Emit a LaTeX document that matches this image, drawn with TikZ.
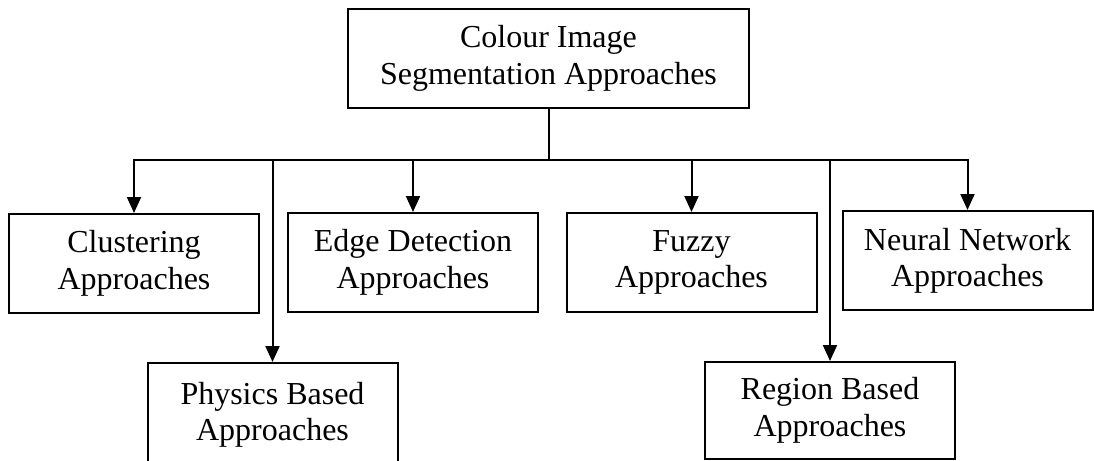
\documentclass[tikz,border=0pt]{standalone}
\usepackage{fontspec}
\setmainfont{Liberation Serif}
\usetikzlibrary{
	arrows.meta,        %箭头
	positioning
}
\tikzset{
	every picture/.style={
		>={Triangle[length=8pt,width=7pt]}
	},
	approach/.style={rectangle,draw,line width=1pt,
		align=center,inner sep=0pt,
		minimum width=125pt,minimum height=49.5pt,
		font=\fontsize{16}{18.2}\selectfont},
	link/.style={->,line width=1pt}
}

\begin{document}
\begin{tikzpicture}[x=0.5pt,y=-0.5pt]
\clip (0,0) rectangle (1094,461);
\node [approach,minimum width=200.5pt] (colour) at (548.5,58.5) {Colour Image\\Segmentation Approaches};
\coordinate (bus) at (548.5,160);
\node [approach] (cluster) at (134,263.5) {Clustering\\Approaches};
\node [approach] (edge) at (413,262.5) {Edge Detection\\Approaches};
\node [approach] (fuzzy) at (691.5,262.5) {Fuzzy\\Approaches};
\node [approach] (neural) at (967.5,260.5) {Neural Network\\Approaches};
\node [approach,minimum height=52pt] (physics) at (272.5,415) {Physics Based\\Approaches};
\node [approach,minimum height=48.5pt] (region) at (830,410.5) {Region Based\\Approaches};
\draw [link] (colour.south) -- (bus) -| (cluster.north);
\draw [link] (bus) -| (physics.north);
\draw [link] (bus) -| (edge.north);
\draw [link] (bus) -| (fuzzy.north);
\draw [link] (bus) -| (region.north);
\draw [link] (bus) -| (neural.north); % 右端
\end{tikzpicture}
\end{document}
